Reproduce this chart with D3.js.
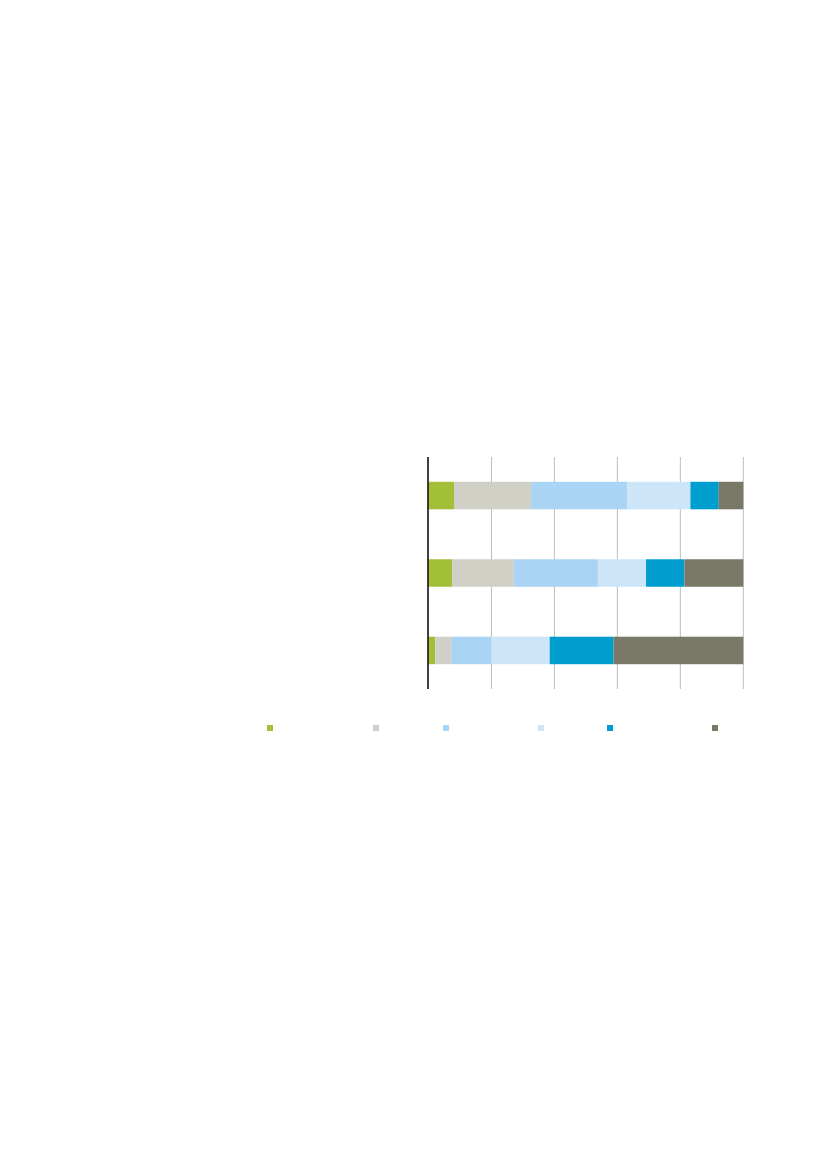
<!DOCTYPE html>
<html><head><meta charset="utf-8">
<script src="https://cdn.jsdelivr.net/npm/d3@7"></script>
<style>html,body{margin:0;padding:0;background:#fff;}svg{display:block;}</style>
</head><body>
<svg id="chart" width="827" height="1169"></svg>
<script>
// Data (percent shares per category; labels are not visible in the reference)
const categories = ["A", "B", "C"];
const seriesNames = ["S1", "S2", "S3", "S4", "S5", "S6"];
const seriesColors = ["#a3be37", "#d1d0c7", "#a9d4f4", "#cce5f8", "#009ecf", "#7a7866"];
const s1 = [8.1, 7.5, 2.1];
const s2 = [24.5, 19.6, 5.3];
const s3 = [30.5, 26.7, 12.5];
const s4 = [20.1, 15.3, 18.6];
const s5 = [9.0, 12.2, 20.3];
const s6 = [7.8, 18.7, 41.2];
const xTicks = [0, 20, 40, 60, 80, 100];

const seriesVals = [s1, s2, s3, s4, s5, s6];
const rows = categories.map((c, i) => {
  const r = {cat: c};
  seriesNames.forEach((s, j) => r[s] = seriesVals[j][i]);
  return r;
});

const svg = d3.select("#chart");
const x = d3.scaleLinear().domain([0, 100]).range([428.5, 743.3]);
const y = d3.scaleBand().domain(categories).range([457, 689]).paddingInner(0.645).paddingOuter(0.32);

// gridlines
svg.append("g").selectAll("line").data(xTicks.slice(1)).join("line")
  .attr("x1", d => x(d)).attr("x2", d => x(d))
  .attr("y1", 457).attr("y2", 689)
  .attr("stroke", "#bdbdbd").attr("stroke-width", 1);

const stack = d3.stack().keys(seriesNames)(rows);
svg.append("g").selectAll("g").data(stack).join("g")
  .attr("fill", (d, i) => seriesColors[i])
  .selectAll("rect").data(d => d).join("rect")
  .attr("x", d => x(d[0]))
  .attr("width", d => x(d[1]) - x(d[0]))
  .attr("y", d => y(d.data.cat))
  .attr("height", y.bandwidth());

// vertical axis line
svg.append("line").attr("x1", 428).attr("x2", 428).attr("y1", 457).attr("y2", 689)
  .attr("stroke", "#000").attr("stroke-width", 1.5);

// legend
const legendX = d3.scalePoint().domain(seriesNames).range([0, 1]);
const legendPos = [267, 373, 443, 538, 607, 712];
svg.append("g").selectAll("rect").data(seriesNames).join("rect")
  .attr("x", (d, i) => legendPos[i]).attr("y", 725)
  .attr("width", 6).attr("height", 6)
  .attr("fill", (d, i) => seriesColors[i]);
</script>
</body></html>
